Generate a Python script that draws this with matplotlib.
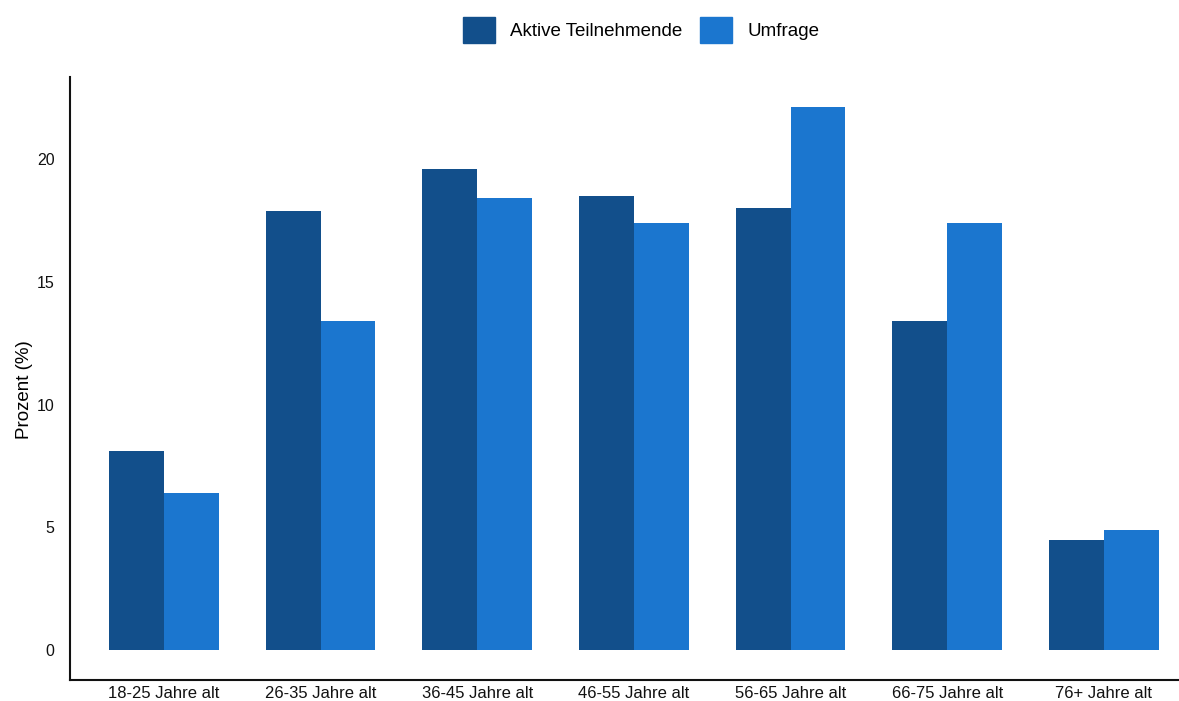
import numpy as np
import matplotlib.pyplot as plt
from matplotlib.patches import Patch

plt.rcParams['font.family'] = ['Liberation Sans', 'DejaVu Sans']

categories = ['18-25 Jahre alt', '26-35 Jahre alt', '36-45 Jahre alt', '46-55 Jahre alt',
              '56-65 Jahre alt', '66-75 Jahre alt', '76+ Jahre alt']
aktive = [8.1, 17.9, 19.6, 18.5, 18.0, 13.4, 4.5]
umfrage = [6.4, 13.4, 18.4, 17.4, 22.1, 17.4, 4.9]
series_names = ['Aktive Teilnehmende', 'Umfrage']
colors = ['#124F8B', '#1B76CF']

fig = plt.figure(figsize=(11.79, 7.01), dpi=100)
ax = fig.add_axes([70 / 1179, 21 / 701, 1109 / 1179, 603 / 701])

x = np.arange(len(categories))
w = 0.35
ax.bar(x - w / 2, aktive, w, color=colors[0])
ax.bar(x + w / 2, umfrage, w, color=colors[1])

ax.set_xlim(-0.6, 6.48)
ax.set_ylim(-1.22, 23.34)
ax.set_xticks(x)
ax.set_xticklabels(categories)
ax.set_yticks([0, 5, 10, 15, 20])
ax.tick_params(axis='both', length=0, colors='#111111')
ax.tick_params(axis='y', pad=11, labelsize=11.5)
ax.tick_params(axis='x', pad=4, labelsize=12)
ax.set_ylabel('Prozent (%)', fontsize=13.5)
ax.yaxis.set_label_coords(-0.033, 0.482)

for s in ['top', 'right']:
    ax.spines[s].set_visible(False)
for s in ['left', 'bottom']:
    ax.spines[s].set_linewidth(1.5)
    ax.spines[s].set_color('#111111')

handles = [Patch(color=c) for c in colors]
fig.legend(handles, series_names, loc='upper center', bbox_to_anchor=(641 / 1179, 1.0),
           ncol=2, frameon=False, fontsize=13.5, handlelength=1.75, handleheight=1.75,
           columnspacing=0.9, handletextpad=0.8)

fig.savefig('out.png', dpi=100)
